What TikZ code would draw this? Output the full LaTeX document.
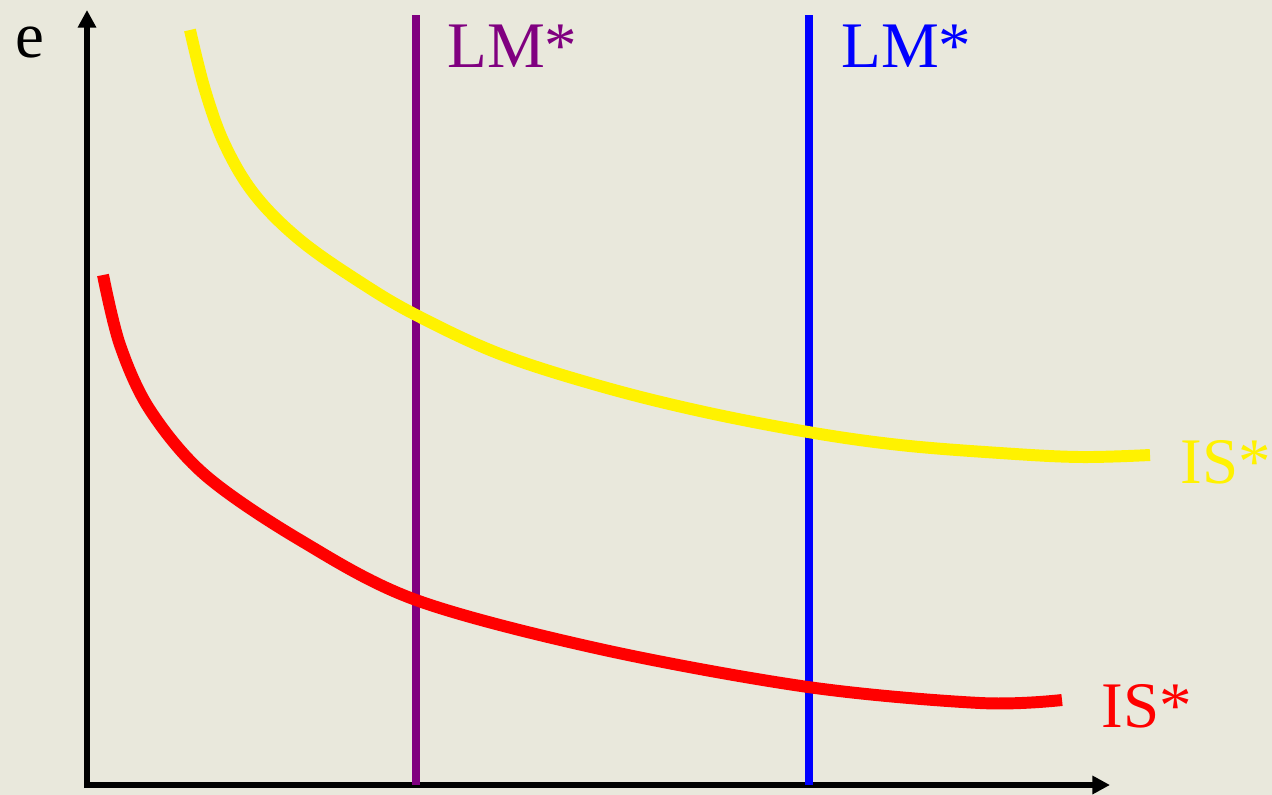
\documentclass[tikz,border=0pt]{standalone}
\usepackage{fontspec}
\setmainfont{Liberation Serif}
\usetikzlibrary{arrows.meta}
\definecolor{bgbeige}{RGB}{233,232,220}
\definecolor{lmpurple}{RGB}{128,0,128}

\begin{document}
\begin{tikzpicture}[x=0.02cm, y=-0.02cm]
    % Styles of the curves and lines
    \tikzset{
        c_axis/.style={line width=3.4pt, color=black, -{Triangle[length=10pt, width=10pt]}},
        c_lm/.style={line width=4pt},
        c_is/.style={line width=6.8pt, line cap=butt},
        c_label/.style={anchor=base west, inner sep=0pt, font=\fontsize{37}{40}\selectfont}
    }

    % Background
    \fill[bgbeige] (0,0) rectangle (1272,795);
    \useasboundingbox (0,0) rectangle (1272,795);

    % Axes
    \coordinate (O) at (87,785);
    \coordinate (Ytop) at (87,10);
    \coordinate (Xend) at (1110,785);
    \draw[c_axis] (87,788) -- (Ytop);
    \draw[c_axis] (84,785) -- (Xend);
    \node[c_label] (e) at (15,57) {e};

    % LM* lines
    \coordinate (LMa-top) at (416,15);
    \coordinate (LMa-bot) at (416,785);
    \coordinate (LMb-top) at (809,15);
    \coordinate (LMb-bot) at (809,785);
    \draw[c_lm, lmpurple] (LMa-top) -- (LMa-bot);
    \draw[c_lm, blue] (LMb-top) -- (LMb-bot);
    \node[c_label, text=lmpurple] (LMa) at (447,67) {LM*};
    \node[c_label, text=blue] (LMb) at (841,67) {LM*};

    % IS* curves
    \draw[c_is, yellow] plot[smooth, tension=0.6] coordinates {
        (190,30) (205,90) (225,145) (255,195) (300,240) (360,282)
        (416,315) (500,354) (600,386) (700,411) (808,432)
        (900,445) (1000,453) (1080,457) (1150,455)};
    \draw[c_is, red] plot[smooth, tension=0.55] coordinates {
        (103,275) (120,345) (150,410) (205,475) (300,540)
        (416,600) (600,649) (808,687) (980,703) (1062,700)};
    \node[c_label, text=yellow] (ISa) at (1180,483) {IS*};
    \node[c_label, text=red] (ISb) at (1101,727) {IS*};
\end{tikzpicture}
\end{document}
